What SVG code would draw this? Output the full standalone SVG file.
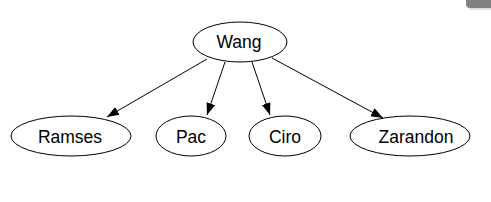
<svg xmlns="http://www.w3.org/2000/svg" width="491" height="202" viewBox="0 0 491 202">
<style>
.node ellipse{fill:none;stroke:#000;stroke-width:1}
.node text{font-family:"Liberation Sans",Arial,sans-serif;font-size:17.5px;text-anchor:middle;fill:#000}
.edge{stroke:#000;stroke-width:1;fill:none;marker-end:url(#arr)}
</style>
<defs>
<marker id="arr" viewBox="0 0 12 10" refX="12" refY="5" markerWidth="12" markerHeight="10" markerUnits="userSpaceOnUse" orient="auto">
<path d="M0,0.5 L12,5 L0,9.5 Z" fill="#000"/>
</marker>
</defs>
<rect width="491" height="202" fill="#fff"/>
<g id="ui-button">
<rect x="468" y="-6" width="30" height="16" rx="4" fill="#c8c8c8" opacity="0.6"/>
<rect x="466" y="-6" width="30" height="14" rx="4" fill="#808080"/>
</g>
<g id="connectors">
<path class="edge" d="M207,59 L107,117"/>
<path class="edge" d="M225,62 L207,115"/>
<path class="edge" d="M252,62 L270,115"/>
<path class="edge" d="M272,58 L383,118"/>
</g>
<g id="node-wang" class="node"><ellipse cx="240" cy="42" rx="47" ry="20"/><text x="239" y="47.5">Wang</text></g>
<g id="node-ramses" class="node"><ellipse cx="71" cy="136" rx="60" ry="20"/><text x="70" y="142.5">Ramses</text></g>
<g id="node-pac" class="node"><ellipse cx="191" cy="136" rx="35" ry="20"/><text x="191" y="142.5">Pac</text></g>
<g id="node-ciro" class="node"><ellipse cx="285" cy="136" rx="36" ry="20"/><text x="285" y="142.5">Ciro</text></g>
<g id="node-zarandon" class="node"><ellipse cx="410" cy="136" rx="60" ry="20"/><text x="416" y="142.5">Zarandon</text></g>
</svg>
